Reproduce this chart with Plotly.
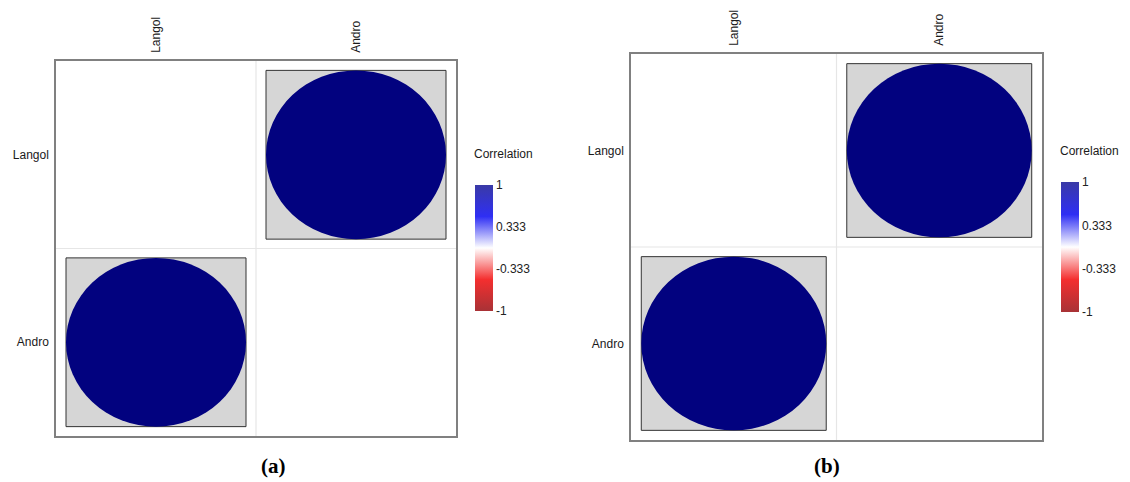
import plotly.graph_objects as go

# ---- data ----
variables = ["Langol", "Andro"]
corr_a = [[1.0, 1.0], [1.0, 1.0]]
corr_b = [[1.0, 1.0], [1.0, 1.0]]
cbar_ticks = [-1, -0.333, 0.333, 1]
cbar_ticktext = ["-1", "-0.333", "0.333", "1"]
cbar_title = "Correlation"
panel_labels = ["(a)", "(b)"]

W, H = 1130, 482
# panel pixel boxes: left, top, right, bottom
boxes = [(56, 61, 456, 436), (631, 54, 1042, 440)]
cbar_px = [(475, 185, 311), (1061, 182, 312)]
cbar_title_px = [(472, 154), (1058, 151)]
label_px = [(273, 466), (827, 466)]

colorscale = [[0.0, "#A83236"], [0.25, "#F42F2F"], [0.5, "#FFFFFF"],
              [0.75, "#2F2FF4"], [1.0, "#3A3AA6"]]
circle_color = "#02027F"
font_fam = "Liberation Sans, Arial, sans-serif"

fig = go.Figure()
shapes = []
n = len(variables)
for p, (mat, box) in enumerate(zip([corr_a, corr_b], boxes)):
    suf = "" if p == 0 else str(p + 1)
    xa, ya = "x" + suf, "y" + suf
    L, T, R, B = box
    fig.update_layout(**{
        "xaxis" + suf: dict(domain=[L / W, R / W], range=[0.5, n + 0.5],
                            tickvals=list(range(1, n + 1)), ticktext=variables,
                            side="top", tickangle=-90, showgrid=False,
                            zeroline=False, showline=True, mirror=True,
                            linecolor="#808080", linewidth=1.5, ticks="",
                            ticklabelstandoff=4, anchor=ya,
                            tickfont=dict(family=font_fam, size=12, color="#1a1a1a")),
        "yaxis" + suf: dict(domain=[(H - B) / H, (H - T) / H], range=[n + 0.5, 0.5],
                            tickvals=list(range(1, n + 1)), ticktext=variables,
                            showgrid=False, zeroline=False, showline=True, mirror=True,
                            linecolor="#808080", linewidth=1.5, ticks="",
                            ticklabelstandoff=3, anchor=xa,
                            tickfont=dict(family=font_fam, size=12, color="#1a1a1a")),
    })
    # grid lines at cell boundaries
    for k in range(1, n):
        shapes.append(dict(type="line", xref=xa, yref=ya, x0=k + 0.5, x1=k + 0.5,
                           y0=0.5, y1=n + 0.5, line=dict(color="#e6e6e6", width=1.2),
                           layer="below"))
        shapes.append(dict(type="line", xref=xa, yref=ya, y0=k + 0.5, y1=k + 0.5,
                           x0=0.5, x1=n + 0.5, line=dict(color="#e6e6e6", width=1.2),
                           layer="below"))
    xs, ys, vals = [], [], []
    for i in range(n):
        for j in range(n):
            if i == j:
                continue
            r = mat[i][j]
            cx, cy = j + 1, i + 1
            shapes.append(dict(type="rect", xref=xa, yref=ya, x0=cx - 0.45, x1=cx + 0.45,
                               y0=cy - 0.45, y1=cy + 0.45, fillcolor="#D6D6D6",
                               line=dict(color="#333333", width=1)))
            rad = 0.45 * abs(r)
            shapes.append(dict(type="circle", xref=xa, yref=ya, x0=cx - rad, x1=cx + rad,
                               y0=cy - rad, y1=cy + rad, fillcolor=circle_color,
                               line=dict(width=0)))
            xs.append(cx); ys.append(cy); vals.append(r)
    cl, ct, cb = cbar_px[p]
    fig.add_trace(go.Scatter(
        x=xs, y=ys, xaxis=xa, yaxis=ya, mode="markers", hoverinfo="skip",
        marker=dict(size=0.1, opacity=0, color=vals, cmin=-1, cmax=1,
                    colorscale=colorscale, showscale=True,
                    colorbar=dict(x=cl / W, xanchor="left", xref="paper", xpad=0,
                                  y=(H - (ct + cb) / 2) / H, yanchor="middle", ypad=0,
                                  len=cb - ct, lenmode="pixels", thickness=18,
                                  outlinewidth=0, ticks="", tickvals=cbar_ticks,
                                  ticktext=cbar_ticktext, ticklabelposition="outside",
                                  tickfont=dict(family=font_fam, size=12, color="#222222"))),
        showlegend=False))
    tx, ty = cbar_title_px[p]
    fig.add_annotation(x=tx / W, y=(H - ty) / H, xref="paper", yref="paper",
                       xanchor="left", yanchor="middle", text=cbar_title, showarrow=False,
                       font=dict(family=font_fam, size=12, color="#1a1a1a"))
    lx, ly = label_px[p]
    fig.add_annotation(x=lx / W, y=(H - ly) / H, xref="paper", yref="paper",
                       xanchor="center", yanchor="middle",
                       text="<b>" + panel_labels[p] + "</b>", showarrow=False,
                       font=dict(family="Liberation Serif, Times New Roman, serif",
                                 size=21, color="#000000"))

fig.update_layout(width=W, height=H, margin=dict(l=0, r=0, t=0, b=0),
                  paper_bgcolor="white", plot_bgcolor="white", shapes=shapes)
fig.write_html("out.html")
